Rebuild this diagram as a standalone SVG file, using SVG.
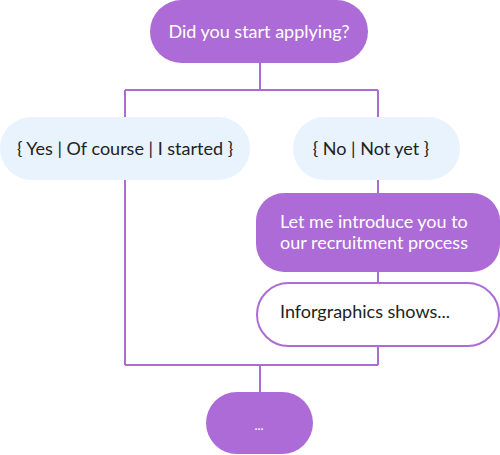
<svg xmlns="http://www.w3.org/2000/svg" width="500" height="455" viewBox="0 0 500 455">
<style>
.p{fill:#AC6BD6}
.b{fill:#E9F3FD}
.w{fill:#FFFFFF;stroke:#AC6BD6;stroke-width:2}
.c{fill:none;stroke:#AC6BD6;stroke-width:2}
text{font-family:Lato,"Open Sans",sans-serif;font-size:18px;text-anchor:middle}
.s{text-anchor:start}
.lt{fill:#FFFFFF}
.dk{fill:#222222}
</style>
<rect width="500" height="455" fill="#FFFFFF"/>
<g id="connectors">
<path class="c" d="M260 63V90M125 90H378M125 90V117M378 90V117M378 180V193M378 272V283M125 180V365M378 346V365M125 365H378M260 365V392"/>
</g>
<g id="start">
<rect class="p" x="150" y="0" width="218" height="63" rx="31.5"/>
<text class="lt" x="259" y="38">Did you start applying?</text>
</g>
<g id="yes">
<rect class="b" x="0" y="117" width="250" height="63" rx="31.5"/>
<text class="dk" x="125" y="155">{ Yes | Of course | I started }</text>
</g>
<g id="no">
<rect class="b" x="293" y="117" width="167" height="63" rx="31.5"/>
<text class="dk" x="371" y="155">{ No | Not yet }</text>
</g>
<g id="intro">
<rect class="p" x="256" y="193" width="244" height="79" rx="28"/>
<text class="lt s" x="280" y="228">Let me introduce you to</text>
<text class="lt s" x="280" y="249">our recruitment process</text>
</g>
<g id="info">
<rect class="w" x="257" y="283" width="242" height="63" rx="31.5"/>
<text class="dk s" x="280" y="318">Inforgraphics shows...</text>
</g>
<g id="end">
<rect class="p" x="206" y="392" width="107" height="62" rx="31"/>
<text class="lt" x="259" y="430" style="font-size:13px">...</text>
</g>
</svg>
